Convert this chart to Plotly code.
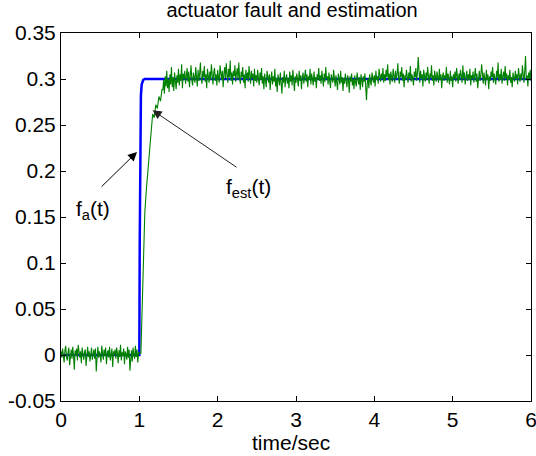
import numpy as np
import plotly.graph_objects as go

# ----- actuator fault f_a(t) (blue step) -----
fault_t = [0.0, 1.0, 1.005, 1.01, 1.015, 1.02, 1.03, 1.05, 1.07, 6.0]
fault_v = [0.0, 0.0, 0.12, 0.22, 0.265, 0.282, 0.294, 0.299, 0.3, 0.3]

# ----- fault estimate f_est(t) (green, noisy) -----
# before the fault, t = 0 .. 1.0 every 0.01 (thousandths)
est_pre = [4, -3, 7, 1, -8, 5, 10, -2, -6, 3,
           8, -11, 2, 6, -4, 9, 0, -16, 5, -1,
           7, -6, 11, 2, -3, 4, -9, 8, 1, -5,
           3, 6, -12, 5, 9, -2, 4, -7, 1, 8,
           -5, 2, 6, -4, 7, -18, 3, 9, -3, 4,
           0, -8, 10, 3, -5, 6, -1, 8, -10, 2,
           5, -3, 9, -6, 1, 7, -13, 4, 0, 6,
           -4, 8, 2, -9, 5, -2, 11, -6, 3, -1,
           7, -10, 4, 1, -5, 9, -3, 6, -17, 2,
           5, -7, 8, 0, -4, 10, -2, 6, -8, 3,
           2]
# the rise after the fault
rise_t = [1.02, 1.03, 1.04, 1.05, 1.07, 1.09, 1.11, 1.13, 1.15, 1.17, 1.19,
          1.21, 1.23, 1.25, 1.27, 1.29]
rise_v = [0.002, 0.035, 0.085, 0.12, 0.155, 0.18, 0.20, 0.218, 0.24, 0.262,
          0.258, 0.272, 0.268, 0.281, 0.276, 0.289]
# steady part, t = 1.30 .. 6.00 every 0.01 (thousandths)
est_post = [288, 299, 284, 303, 292, 309, 290, 300, 286, 305,
            294, 313, 291, 302, 287, 307, 297, 289, 304, 296,
            311, 293, 305, 298, 316, 290, 306, 300, 309, 295,
            303, 312, 297, 308, 291, 304, 315, 299, 293, 307,
            301, 296, 313, 304, 292, 310, 298, 306, 318, 300,
            295, 309, 302, 314, 297, 305, 290, 311, 303, 296,
            308, 299, 316, 301, 294, 307, 312, 298, 305, 293,
            310, 302, 296, 315, 304, 299, 309, 291, 306, 313,
            300, 317, 305, 296, 311, 302, 320, 298, 307, 294,
            309, 303, 315, 297, 306, 312, 299, 318, 301, 295,
            308, 302, 313, 296, 305, 290, 310, 300, 307, 297,
            314, 303, 295, 309, 301, 306, 292, 311, 298, 304,
            296, 310, 301, 293, 307, 299, 312, 295, 303, 289,
            306, 298, 291, 309, 302, 296, 305, 288, 300, 308,
            294, 303, 297, 311, 292, 301, 286, 305, 299, 293,
            307, 298, 284, 302, 296, 309, 291, 300, 305, 295,
            301, 290, 308, 297, 304, 293, 310, 299, 287, 303,
            296, 306, 300, 292, 309, 298, 304, 289, 302, 307,
            295, 301, 310, 297, 305, 291, 303, 299, 311, 294,
            306, 300, 293, 308, 297, 302, 290, 305, 299, 312,
            298, 304, 295, 309, 301, 292, 306, 297, 313, 300,
            303, 294, 307, 299, 290, 305, 301, 296, 310, 298,
            292, 304, 297, 288, 306, 300, 294, 309, 296, 302,
            287, 301, 295, 306, 298, 291, 304, 299, 285, 303,
            297, 306, 293, 300, 289, 304, 296, 292, 307, 299,
            294, 302, 288, 305, 298, 291, 303, 297, 306, 295,
            277, 296, 301, 290, 305, 298, 293, 307, 300, 296,
            304, 292, 309, 299, 303, 295, 311, 301, 297, 306,
            300, 312, 296, 305, 298, 310, 302, 316, 299, 306,
            294, 308, 301, 297, 311, 303, 296, 309, 300, 305,
            317, 301, 295, 308, 302, 313, 298, 306, 291, 304,
            299, 310, 303, 296, 307, 300, 314, 297, 305, 301,
            293, 308, 302, 312, 298, 306, 324, 301, 296, 309,
            300, 305, 292, 310, 303, 297, 307, 299, 313, 302,
            295, 306, 301, 315, 298, 304, 293, 309, 300, 297,
            308, 302, 296, 311, 299, 305, 290, 303, 307, 298,
            304, 300, 313, 296, 306, 301, 294, 309, 298, 303,
            291, 305, 300, 308, 297, 312, 302, 295, 306, 299,
            310, 303, 296, 315, 300, 307, 294, 302, 309, 298,
            305, 299, 311, 293, 304, 300, 308, 296, 303, 312,
            297, 306, 290, 302, 309, 298, 304, 316, 300, 295,
            307, 301, 293, 310, 299, 305, 289, 303, 298, 308,
            302, 313, 296, 306, 300, 294, 309, 301, 318, 297,
            305, 299, 311, 295, 303, 308, 298, 314, 300, 306,
            293, 304, 299, 310, 296, 302, 291, 307, 301, 297,
            309, 300, 305, 294, 312, 302, 297, 306, 299, 315,
            301, 296, 308, 325, 299, 304, 292, 307, 300, 310,
            298]

x_ticks = [0, 1, 2, 3, 4, 5, 6]
y_ticks = [-0.05, 0, 0.05, 0.1, 0.15, 0.2, 0.25, 0.3, 0.35]
y_ticktext = ["-0.05", "0", "0.05", "0.1", "0.15", "0.2", "0.25", "0.3", "0.35"]

# --- stitch the estimate together
t_pre = np.linspace(0, 1.0, len(est_pre))
t_post = np.linspace(1.30, 6.0, len(est_post))
est_t = list(t_pre) + rise_t + list(t_post)
est_v = [v / 1000 for v in est_pre] + rise_v + [v / 1000 for v in est_post]

fig = go.Figure()
fig.add_trace(go.Scatter(x=fault_t, y=fault_v, mode="lines",
                         line=dict(color="#0000ff", width=2.5)))
fig.add_trace(go.Scatter(x=est_t, y=est_v, mode="lines",
                         line=dict(color="#008000", width=1.1)))

family = "Liberation Sans, Arial, sans-serif"
tick_font = dict(family=family, size=21, color="black")
label_font = dict(family=family, size=21, color="black")
title_font = dict(family=family, size=20, color="black")

# --- arrows and labels
fig.add_annotation(x=0.97, y=0.2207, ax=0.50, ay=0.1815, axref="x", ayref="y",
                   text="", showarrow=True, arrowhead=2, arrowsize=1.8,
                   arrowwidth=1, arrowcolor="black")
fig.add_annotation(x=1.17, y=0.266, ax=2.26, ay=0.203, axref="x", ayref="y",
                   text="", showarrow=True, arrowhead=2, arrowsize=1.8,
                   arrowwidth=1, arrowcolor="#222222")
fig.add_annotation(x=0.41, y=0.158, text="f<sub>a</sub>(t)", showarrow=False,
                   font=label_font)
fig.add_annotation(x=2.39, y=0.181, text="f<sub>est</sub>(t)", showarrow=False,
                   font=label_font)
# x axis label
fig.add_annotation(x=0.489, y=-0.112, xref="paper", yref="paper",
                   text="time/sec", showarrow=False, font=label_font,
                   xanchor="center", yanchor="middle")

axis_common = dict(showline=True, linecolor="black", linewidth=1, mirror="ticks",
                   ticks="inside", ticklen=5, tickcolor="black", showgrid=False,
                   zeroline=False, tickfont=tick_font, automargin=False,
                   ticklabeloverflow="allow")

fig.update_layout(
    width=536, height=456,
    margin=dict(l=61, r=5, t=33, b=55),
    paper_bgcolor="white", plot_bgcolor="white",
    showlegend=False,
    title=dict(text="actuator fault and estimation", xref="container",
               x=0.545, xanchor="center", yref="container", y=0.978,
               yanchor="middle", font=title_font),
    xaxis=dict(range=[0, 6], tickvals=x_ticks, **axis_common),
    yaxis=dict(range=[-0.05, 0.35], tickvals=y_ticks, ticktext=y_ticktext,
               **axis_common),
)

# --- page body has a default 8px margin, drop it so the figure sits at 0,0
fig.write_html("out.html", config={"displayModeBar": False},
               post_script="document.body.style.margin='0';"
                           "document.body.style.overflow='hidden';")
